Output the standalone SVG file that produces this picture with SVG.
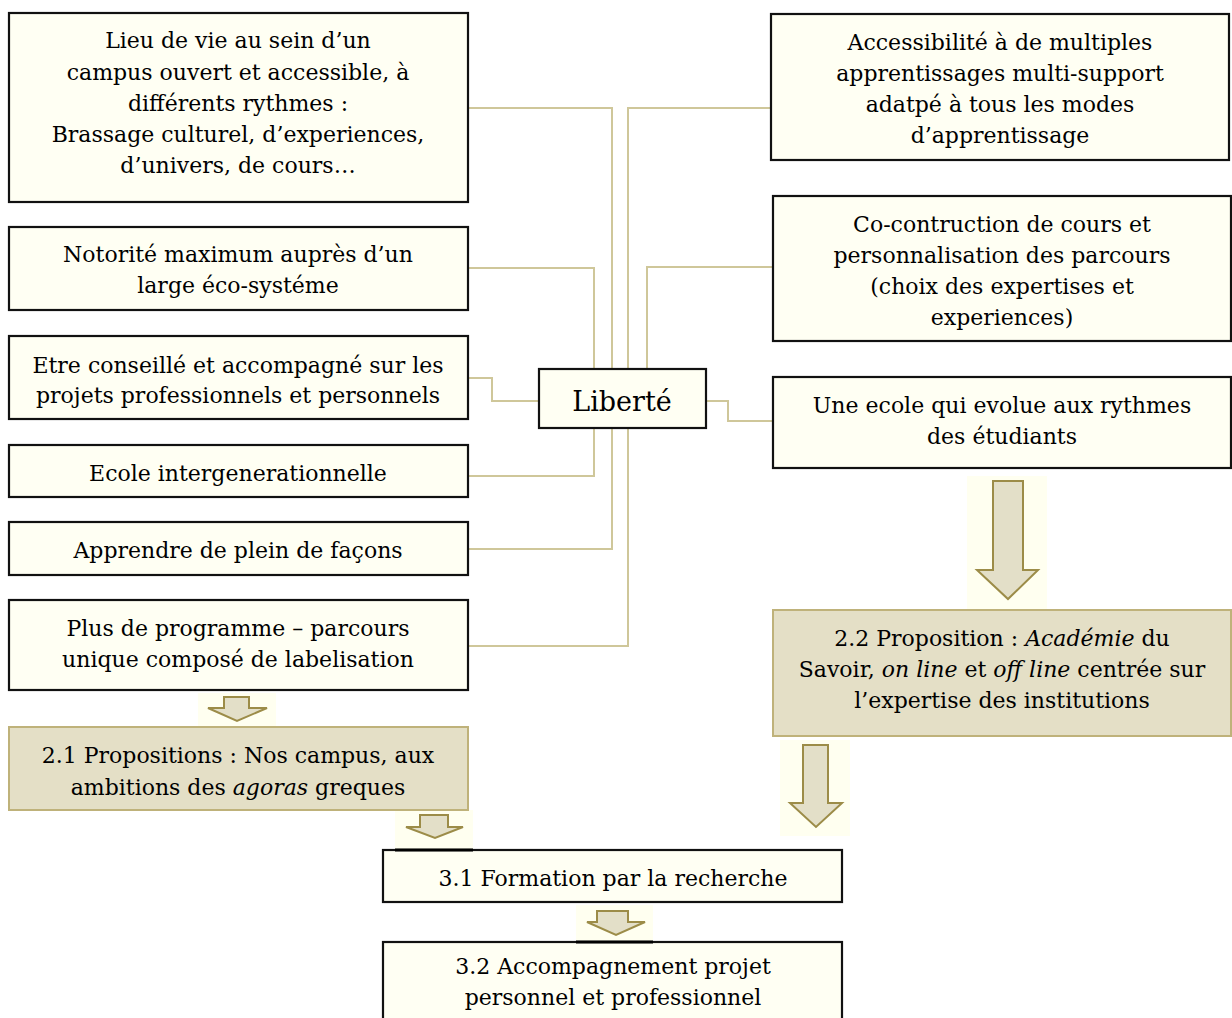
<svg xmlns="http://www.w3.org/2000/svg" width="1232" height="1018" viewBox="0 0 1232 1018">
<defs>
<style>
.box{fill:#fffff3;stroke:#111;stroke-width:2.2}
.tan{fill:#e4dfc6;stroke:#bfb27a;stroke-width:2}
.t{font-family:"DejaVu Serif","Liberation Serif",serif;font-size:22px;fill:#000;text-anchor:middle}
.big{font-size:27px}
.c{fill:none;stroke:#cfc79a;stroke-width:2}
.arr{fill:#e3dfc8;stroke:#9c8c48;stroke-width:2;stroke-linejoin:miter}
.glow{fill:#fffff0}
.i{font-style:italic}
</style>
</defs>
<rect width="1232" height="1018" fill="#ffffff"/>

<g id="connectors">
<path class="c" d="M468,108 H612 V369"/>
<path class="c" d="M771,108 H628 V369"/>
<path class="c" d="M468,268 H594 V369"/>
<path class="c" d="M773,267 H647 V369"/>
<path class="c" d="M468,378 H492 V401 H539"/>
<path class="c" d="M706,401 H728 V421 H773"/>
<path class="c" d="M594,428 V476 H468"/>
<path class="c" d="M612,428 V549 H468"/>
<path class="c" d="M628,428 V646 H468"/>
</g>

<g id="arrows">
<rect class="glow" x="198" y="693" width="78" height="34"/>
<polygon class="arr" points="224,697 249,697 249,708 267,708 237,721 208,708 224,708"/>
<line x1="198" y1="727" x2="276" y2="727" stroke="#9c8c48" stroke-width="2"/>

<rect class="glow" x="395" y="810" width="78" height="40"/>
<polygon class="arr" points="420,815 448,815 448,827 463,827 435,838 406,827 420,827"/>

<rect class="glow" x="576" y="905" width="77" height="37"/>
<polygon class="arr" points="597,911 628,911 628,922 645,922 616,935 587,922 597,922"/>

<rect class="glow" x="967" y="476" width="80" height="134"/>
<polygon class="arr" points="993,481 1023,481 1023,570 1038,570 1008,599 977,570 993,570"/>
<line x1="967" y1="610" x2="1047" y2="610" stroke="#9c8c48" stroke-width="2"/>

<rect class="glow" x="780" y="740" width="70" height="96"/>
<polygon class="arr" points="803,745 828,745 828,803 842,803 816,827 790,803 803,803"/>
</g>

<g id="n-lieu">
<rect class="box" x="9" y="13" width="459" height="189"/>
<text class="t" x="238" y="48">Lieu de vie au sein d’un</text>
<text class="t" x="238" y="80">campus ouvert et accessible, à</text>
<text class="t" x="238" y="111">différents rythmes :</text>
<text class="t" x="238" y="142">Brassage culturel, d’experiences,</text>
<text class="t" x="238" y="173">d’univers, de cours…</text>
</g>

<g id="n-notoriete">
<rect class="box" x="9" y="227" width="459" height="83"/>
<text class="t" x="238" y="262">Notorité maximum auprès d’un</text>
<text class="t" x="238" y="293">large éco-systéme</text>
</g>

<g id="n-conseille">
<rect class="box" x="9" y="336" width="459" height="83"/>
<text class="t" x="238" y="373">Etre conseillé et accompagné sur les</text>
<text class="t" x="238" y="403">projets professionnels et personnels</text>
</g>

<g id="n-ecole">
<rect class="box" x="9" y="445" width="459" height="52"/>
<text class="t" x="238" y="481">Ecole intergenerationnelle</text>
</g>

<g id="n-apprendre">
<rect class="box" x="9" y="522" width="459" height="53"/>
<text class="t" x="238" y="558">Apprendre de plein de façons</text>
</g>

<g id="n-plus">
<rect class="box" x="9" y="600" width="459" height="90"/>
<text class="t" x="238" y="636">Plus de programme – parcours</text>
<text class="t" x="238" y="667">unique composé de labelisation</text>
</g>

<g id="n-21">
<rect class="tan" x="9" y="727" width="459" height="83"/>
<text class="t" x="238" y="763">2.1 Propositions : Nos campus, aux</text>
<text class="t" x="238" y="795">ambitions des <tspan class="i">agoras</tspan> greques</text>
</g>

<g id="n-liberte">
<rect class="box" x="539" y="369" width="167" height="59"/>
<text class="t big" x="622" y="411">Liberté</text>
</g>

<g id="n-accessibilite">
<rect class="box" x="771" y="14" width="458" height="146"/>
<text class="t" x="1000" y="50">Accessibilité à de multiples</text>
<text class="t" x="1000" y="81">apprentissages multi-support</text>
<text class="t" x="1000" y="112">adatpé à tous les modes</text>
<text class="t" x="1000" y="143">d’apprentissage</text>
</g>

<g id="n-cocontruction">
<rect class="box" x="773" y="196" width="458" height="145"/>
<text class="t" x="1002" y="232">Co-contruction de cours et</text>
<text class="t" x="1002" y="263">personnalisation des parcours</text>
<text class="t" x="1002" y="294">(choix des expertises et</text>
<text class="t" x="1002" y="325">experiences)</text>
</g>

<g id="n-rythmes">
<rect class="box" x="773" y="377" width="458" height="91"/>
<text class="t" x="1002" y="413">Une ecole qui evolue aux rythmes</text>
<text class="t" x="1002" y="444">des étudiants</text>
</g>

<g id="n-22">
<rect class="tan" x="773" y="610" width="458" height="126"/>
<text class="t" x="1002" y="646">2.2 Proposition : <tspan class="i">Académie</tspan> du</text>
<text class="t" x="1002" y="677">Savoir, <tspan class="i">on line</tspan> et <tspan class="i">off line</tspan> centrée sur</text>
<text class="t" x="1002" y="708">l’expertise des institutions</text>
</g>

<g id="n-31">
<rect class="box" x="383" y="850" width="459" height="52"/>
<line x1="395" y1="850" x2="473" y2="850" stroke="#000" stroke-width="3"/>
<text class="t" x="613" y="886">3.1 Formation par la recherche</text>
</g>

<g id="n-32">
<rect class="box" x="383" y="942" width="459" height="90"/>
<line x1="576" y1="942" x2="653" y2="942" stroke="#000" stroke-width="3"/>
<text class="t" x="613" y="974">3.2 Accompagnement projet</text>
<text class="t" x="613" y="1005">personnel et professionnel</text>
</g>
</svg>
